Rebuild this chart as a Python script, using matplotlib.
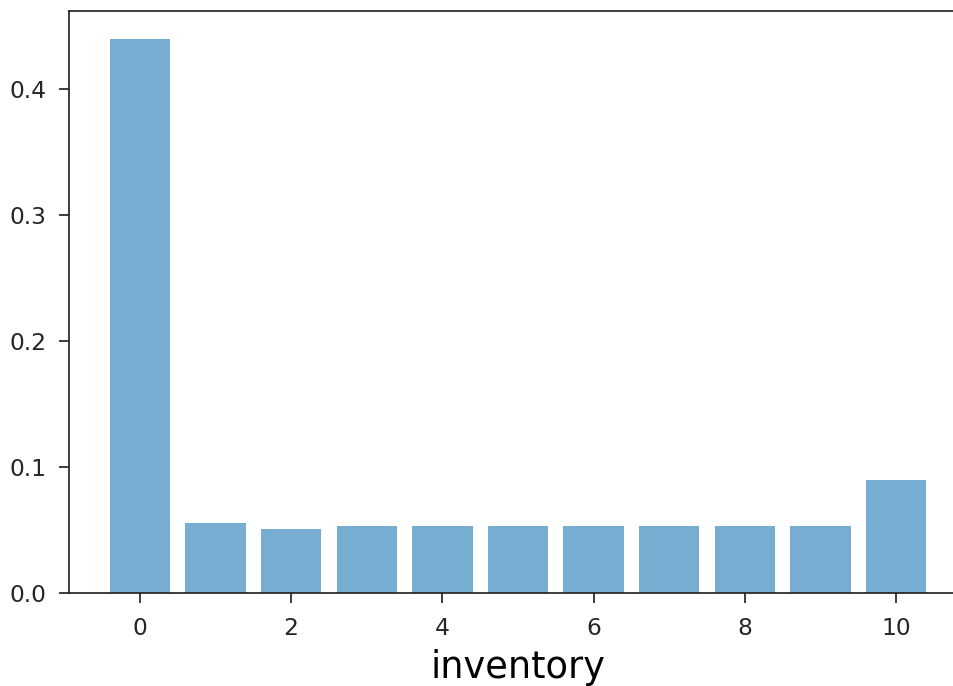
import numpy as np
import matplotlib
matplotlib.use("Agg")
import matplotlib.pyplot as plt

# inventory levels and their probabilities
inventory = list(range(11))
prob = [0.4395, 0.0556, 0.0511, 0.0532, 0.0532, 0.0532, 0.0532, 0.0532, 0.0532, 0.0532, 0.0893]
xticks = [0, 2, 4, 6, 8, 10]
yticks = [0.0, 0.1, 0.2, 0.3, 0.4]

fig = plt.figure(figsize=(9.54, 6.86), dpi=100)
# axes runs slightly past the right edge, like the cropped original
ax = fig.add_axes([69 / 954, 1 - 593 / 686, (967 - 69) / 954, (593 - 11) / 686])

ax.bar(inventory, prob, color="#1f77b4", alpha=0.6, width=0.8)
ax.set_xticks(xticks)
ax.set_yticks(yticks)
ax.set_yticklabels([f"{v:.1f}" for v in yticks])
ax.set_xlabel("inventory", fontsize=26.5, labelpad=7)

ax.tick_params(labelsize=16.8, length=7, width=1.25, colors="#262626")
ax.tick_params(axis="x", pad=10)
ax.tick_params(axis="y", pad=9)
for sp in ax.spines.values():
    sp.set_linewidth(1.25)
    sp.set_color("#262626")

plt.savefig("out.png", dpi=100)
plt.close()
